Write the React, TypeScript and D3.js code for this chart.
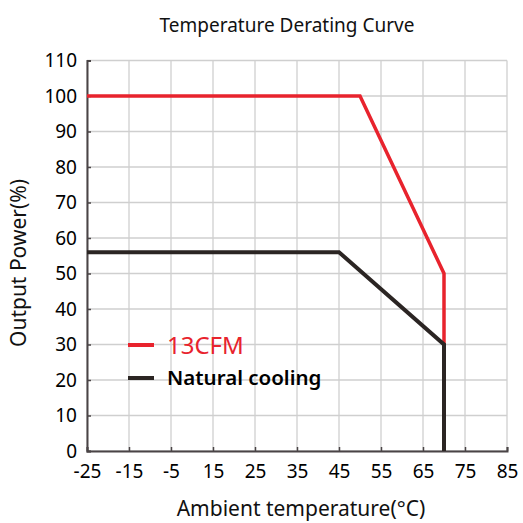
import React, { useRef, useEffect } from 'react';
import * as d3 from 'd3';

// tick labels as printed on the reference (note: it jumps from -5 to 15)
const xTickLabels = [-25, -15, -5, 15, 25, 35, 45, 55, 65, 75, 85];
const yTickLabels = [0, 10, 20, 30, 40, 50, 60, 70, 80, 90, 100, 110];

const fanTemp = [-25, 50, 70, 70];
const fanPower = [100, 100, 50, 30];

const naturalTemp = [-25, 45, 70, 70];
const naturalPower = [56, 56, 30, 0];

const seriesNames = ['13CFM', 'Natural cooling'];
const seriesColors = ['#e8232d', '#2b2523'];

const W = 523;
const H = 523;

const App = () => {
  const svgRef = useRef<SVGSVGElement>(null);

  useEffect(() => {
    const svg = d3.select(svgRef.current);
    svg.selectAll('*').remove();

    const left = 87;
    const right = 507;
    const top = 60.5;
    const bottom = 451;
    const step = (right - left) / (xTickLabels.length - 1);

    // piecewise scale so printed labels sit on evenly spaced ticks
    const x = d3
      .scaleLinear()
      .domain([-25, -5, 15, 85])
      .range([left, left + 2 * step, left + 3 * step, right]);
    const y = d3.scaleLinear().domain([0, 110]).range([bottom, top]);

    const font = '"Noto Sans", sans-serif';

    // grid
    const grid = svg.append('g').attr('stroke', '#cfcfcf').attr('stroke-width', 1.3);
    xTickLabels.forEach((t) => {
      grid.append('line').attr('x1', x(t)).attr('x2', x(t)).attr('y1', top).attr('y2', bottom);
    });
    yTickLabels.forEach((t) => {
      grid.append('line').attr('x1', left).attr('x2', right).attr('y1', y(t)).attr('y2', y(t));
    });

    // axes
    const xAxis = svg
      .append('g')
      .attr('transform', `translate(0,${bottom})`)
      .call(d3.axisBottom(x).tickValues(xTickLabels).tickSize(-4).tickPadding(12).tickFormat((d) => String(d)));
    const yAxis = svg
      .append('g')
      .attr('transform', `translate(${left},0)`)
      .call(d3.axisLeft(y).tickValues(yTickLabels).tickSize(-4).tickPadding(10).tickFormat((d) => String(d)));

    [xAxis, yAxis].forEach((a) => {
      a.select('.domain').attr('stroke', '#4a4446').attr('stroke-width', 2);
      a.selectAll('.tick line').attr('stroke', '#4a4446').attr('stroke-width', 1.5);
      a.selectAll('.tick text').attr('fill', '#000').style('font', `19px ${font}`);
    });
    xAxis.selectAll('.tick text').attr('dy', '0.8em');

    // lines
    const line = d3
      .line<[number, number]>()
      .x((d) => x(d[0]))
      .y((d) => y(d[1]));

    const series = [
      d3.zip(fanTemp, fanPower) as [number, number][],
      d3.zip(naturalTemp, naturalPower) as [number, number][],
    ];

    series.forEach((pts, i) => {
      svg
        .append('path')
        .attr('d', line(pts))
        .attr('fill', 'none')
        .attr('stroke', seriesColors[i])
        .attr('stroke-width', i === 0 ? 3.5 : 4)
        .attr('stroke-linejoin', 'miter');
    });

    // legend
    const legend = svg.append('g');
    const ly = [345, 378];
    seriesNames.forEach((name, i) => {
      legend
        .append('line')
        .attr('x1', 128)
        .attr('x2', 154)
        .attr('y1', ly[i])
        .attr('y2', ly[i])
        .attr('stroke', seriesColors[i])
        .attr('stroke-width', 4);
      legend
        .append('text')
        .attr('x', 167)
        .attr('y', ly[i])
        .attr('dy', '0.36em')
        .attr('fill', i === 0 ? seriesColors[0] : '#000')
        .style('font', i === 0 ? `24px ${font}` : `600 20.5px ${font}`)
        .text(name);
    });

    // titles
    svg
      .append('text')
      .attr('x', 287)
      .attr('y', 32)
      .attr('text-anchor', 'middle')
      .attr('fill', '#111')
      .style('font', `19px ${font}`)
      .text('Temperature Derating Curve');

    svg
      .append('text')
      .attr('x', 301)
      .attr('y', 516)
      .attr('text-anchor', 'middle')
      .attr('fill', '#111')
      .style('font', `21px ${font}`)
      .text('Ambient temperature(°C)');

    svg
      .append('text')
      .attr('transform', `translate(26,263) rotate(-90)`)
      .attr('text-anchor', 'middle')
      .attr('fill', '#111')
      .style('font', `21px ${font}`)
      .text('Output Power(%)');
  }, []);

  return (
    <svg
      ref={svgRef}
      width={W}
      height={H}
      style={{ position: 'absolute', left: 0, top: 0, background: '#fff' }}
    />
  );
};

export default App;
